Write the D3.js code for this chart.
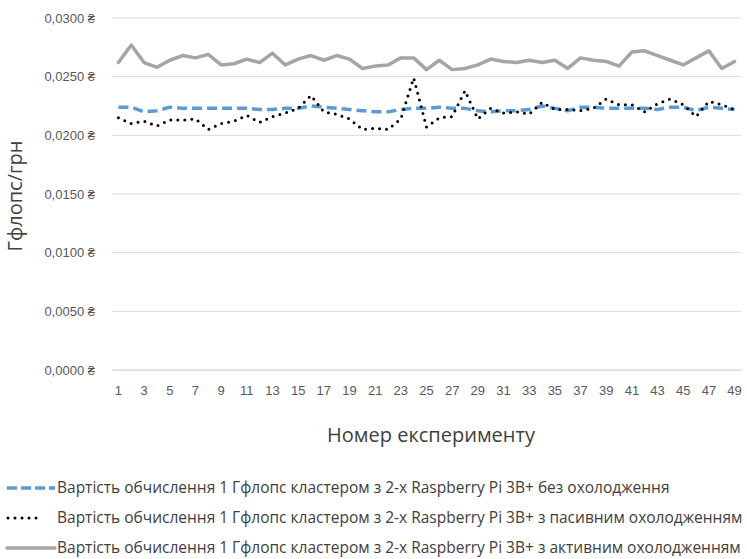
<!DOCTYPE html>
<html>
<head>
<meta charset="utf-8">
<script src="https://cdn.jsdelivr.net/npm/d3@7"></script>
<style>
  body { margin: 0; background: #fff; }
  svg { font-family: "Open Sans", sans-serif; }
</style>
</head>
<body>
<div id="chart-container"></div>
<script>
// experiment numbers
const experiments = [1, 2, 3, 4, 5, 6, 7, 8, 9, 10, 11, 12, 13, 14, 15, 16, 17, 18, 19, 20,
  21, 22, 23, 24, 25, 26, 27, 28, 29, 30, 31, 32, 33, 34, 35, 36, 37, 38, 39, 40,
  41, 42, 43, 44, 45, 46, 47, 48, 49];

// cost of 1 GFLOPS, no cooling
const noCooling = [0.0224, 0.0224, 0.0220, 0.0221, 0.0224, 0.0223, 0.0223, 0.0223, 0.0223, 0.0223,
  0.0223, 0.0222, 0.0222, 0.0223, 0.0223, 0.0225, 0.0224, 0.0223, 0.0222, 0.0221,
  0.0220, 0.0220, 0.0222, 0.0223, 0.0223, 0.0224, 0.0223, 0.0223, 0.0221, 0.0220,
  0.0221, 0.0221, 0.0222, 0.0225, 0.0223, 0.0221, 0.0224, 0.0224, 0.0223, 0.0223,
  0.0223, 0.0223, 0.0222, 0.0224, 0.0224, 0.0221, 0.0224, 0.0223, 0.0222];

// passive cooling
const passive = [0.0215, 0.0210, 0.0212, 0.0208, 0.0213, 0.0213, 0.0214, 0.0205, 0.0210, 0.0212,
  0.0217, 0.0211, 0.0216, 0.0219, 0.0223, 0.0234, 0.0220, 0.0218, 0.0214, 0.0205,
  0.0206, 0.0205, 0.0214, 0.0249, 0.0207, 0.0215, 0.0216, 0.0238, 0.0214, 0.0223,
  0.0219, 0.0220, 0.0218, 0.0228, 0.0222, 0.0222, 0.0221, 0.0223, 0.0231, 0.0226,
  0.0226, 0.0220, 0.0227, 0.0231, 0.0226, 0.0216, 0.0229, 0.0226, 0.0222];

// active cooling
const active = [0.0262, 0.0277, 0.0262, 0.0258, 0.0264, 0.0268, 0.0266, 0.0269, 0.0260, 0.0261,
  0.0265, 0.0262, 0.0270, 0.0260, 0.0265, 0.0268, 0.0264, 0.0268, 0.0265, 0.0257,
  0.0259, 0.0260, 0.0266, 0.0266, 0.0256, 0.0264, 0.0256, 0.0257, 0.0260, 0.0265,
  0.0263, 0.0262, 0.0264, 0.0262, 0.0264, 0.0257, 0.0266, 0.0264, 0.0263, 0.0259,
  0.0271, 0.0272, 0.0268, 0.0264, 0.0260, 0.0266, 0.0272, 0.0257, 0.0263];

const yTicks = [0, 0.005, 0.010, 0.015, 0.020, 0.025, 0.030];
const seriesNames = [
  "Вартість обчислення 1 Гфлопс кластером з 2-х Raspberry Pi 3B+ без охолодження",
  "Вартість обчислення 1 Гфлопс кластером з 2-х Raspberry Pi 3B+ з пасивним охолодженням",
  "Вартість обчислення 1 Гфлопс кластером з 2-х Raspberry Pi 3B+ з активним охолодженням"
];
const xTitle = "Номер експерименту";
const yTitle = "Гфлопс/грн";

const W = 747, H = 559;
const margin = {top: 18, right: 6, bottom: 189, left: 112};
const width = W - margin.left - margin.right,
      height = H - margin.top - margin.bottom;

const svg = d3.select("#chart-container").append("svg")
    .attr("width", W)
    .attr("height", H);

const g = svg.append("g")
    .attr("transform", `translate(${margin.left}, ${margin.top})`);

const x = d3.scaleBand()
    .domain(experiments)
    .range([0, width]);
const cx = d => x(d) + x.bandwidth() / 2;

const y = d3.scaleLinear()
    .domain([0, 0.03])
    .range([height, 0]);

const uaLocale = d3.formatLocale({decimal: ",", thousands: " ", grouping: [3], currency: ["", " ₴"]});
const fmt = uaLocale.format(".4f");

// gridlines
g.selectAll(".grid")
    .data(yTicks)
    .enter().append("line")
    .attr("x1", 0).attr("x2", width)
    .attr("y1", d => y(d)).attr("y2", d => y(d))
    .attr("stroke", "#d9d9d9")
    .attr("stroke-width", 1);

// y axis labels
const yAxis = g.append("g")
    .call(d3.axisLeft(y).tickValues(yTicks).tickSize(0).tickPadding(17).tickFormat(d => fmt(d) + " ₴"));
yAxis.select(".domain").remove();
yAxis.selectAll("text").attr("fill", "#595959").style("font-size", "13px");

// x axis labels (every second)
const xAxis = g.append("g")
    .attr("transform", `translate(0, ${height})`)
    .call(d3.axisBottom(x).tickSize(0).tickPadding(16).tickFormat(d => d % 2 === 1 ? d : ""));
xAxis.select(".domain").attr("stroke", "#d9d9d9");
xAxis.selectAll("text").attr("fill", "#595959").style("font-size", "13px");

// axis titles
svg.append("text")
    .attr("x", 431)
    .attr("y", 442)
    .attr("text-anchor", "middle")
    .attr("fill", "#404040")
    .style("font-size", "20px")
    .text(xTitle);

svg.append("text")
    .attr("transform", "rotate(-90)")
    .attr("x", -196)
    .attr("y", 22)
    .attr("text-anchor", "middle")
    .attr("fill", "#404040")
    .style("font-size", "20px")
    .text(yTitle);

const styles = [
    {color: "#5b9bd5", width: 3.5, dash: "10,5", cap: "butt"},
    {color: "#000000", width: 3, dash: "0,7", cap: "round"},
    {color: "#a5a5a5", width: 3.5, dash: null, cap: "round"}
];
const allSeries = [noCooling, passive, active];

const line = d3.line()
    .x((d, i) => cx(experiments[i]))
    .y(d => y(d));

allSeries.forEach((s, k) => {
    g.append("path")
        .datum(s)
        .attr("fill", "none")
        .attr("stroke", styles[k].color)
        .attr("stroke-width", styles[k].width)
        .attr("stroke-dasharray", styles[k].dash)
        .attr("stroke-linecap", styles[k].cap)
        .attr("stroke-linejoin", "round")
        .attr("d", line);
});

// legend
const legend = svg.append("g");
const legendY = [488, 518, 548];
seriesNames.forEach((name, k) => {
    legend.append("line")
        .attr("x1", k === 1 ? 8 : 7).attr("x2", k === 1 ? 42 : 55)
        .attr("y1", legendY[k]).attr("y2", legendY[k])
        .attr("stroke", styles[k].color)
        .attr("stroke-width", styles[k].width)
        .attr("stroke-dasharray", k === 0 ? "10,4" : styles[k].dash)
        .attr("stroke-linecap", styles[k].cap);
    legend.append("text")
        .attr("x", 57)
        .attr("y", legendY[k])
        .attr("dy", "0.35em")
        .attr("fill", "#404040")
        .style("font-size", "15.5px")
        .text(name);
});
</script>
</body>
</html>
